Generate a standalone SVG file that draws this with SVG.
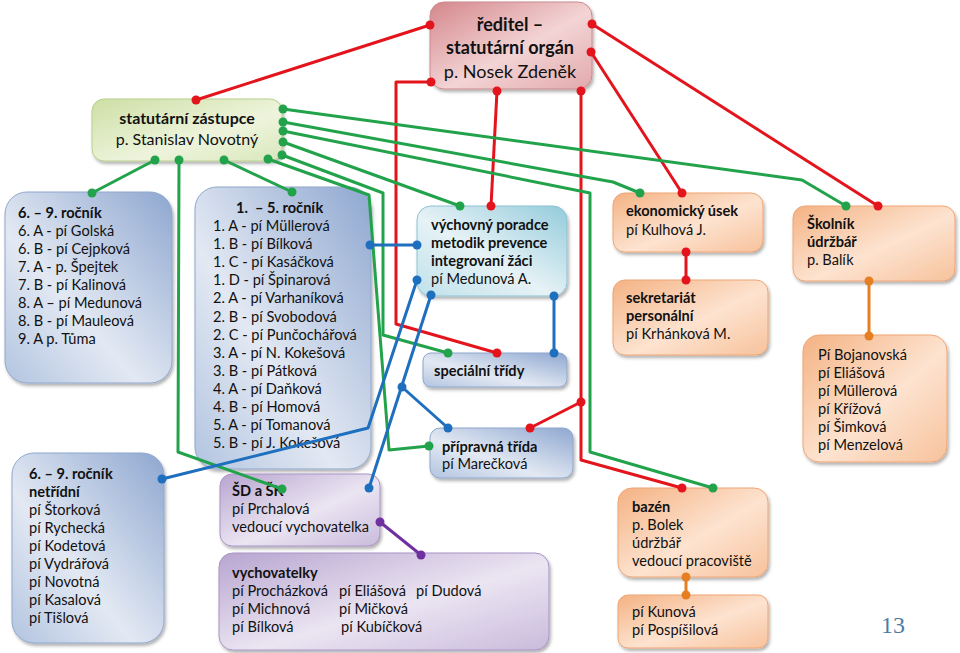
<svg xmlns="http://www.w3.org/2000/svg" width="960" height="653" viewBox="0 0 960 653">
<style>
text{font-family:Lato,"Noto Sans","Liberation Sans",sans-serif;font-size:14.6px;fill:#111}
.b{font-weight:bold}
.big{font-size:18px}
.mid{font-size:16px}
.ln{fill:none;stroke-width:3;stroke-linejoin:round}
.r{stroke:#e3141c}.g{stroke:#22a34b}.bl{stroke:#1f6fbf}.p{stroke:#7030a0}.o{stroke:#e67e22}
.dr{fill:#e3141c}.dg{fill:#22a34b}.db{fill:#1f6fbf}.dp{fill:#7030a0}.do{fill:#e67e22}
.box{filter:url(#sh)}
</style>
<defs>
<filter id="sh" x="-10%" y="-10%" width="125%" height="130%">
<feDropShadow dx="1.5" dy="2.5" stdDeviation="1.5" flood-color="#000" flood-opacity="0.3"/>
</filter>
<linearGradient id="gRed" x1="0" y1="0" x2="1" y2="1">
<stop offset="0" stop-color="#d4878c"/><stop offset="0.55" stop-color="#f3d4d5"/><stop offset="1" stop-color="#e2a9ac"/>
</linearGradient>
<linearGradient id="gGreen" x1="0" y1="0" x2="1" y2="1">
<stop offset="0" stop-color="#cddfa5"/><stop offset="0.6" stop-color="#eef4dc"/><stop offset="1" stop-color="#d9e7bc"/>
</linearGradient>
<linearGradient id="gBlue" x1="0" y1="1" x2="1" y2="0">
<stop offset="0" stop-color="#b2c4e0"/><stop offset="0.4" stop-color="#e3e9f3"/><stop offset="1" stop-color="#8ea7d0"/>
</linearGradient>
<linearGradient id="gTeal" x1="0" y1="1" x2="1" y2="0">
<stop offset="0" stop-color="#bfe1ea"/><stop offset="0.45" stop-color="#e6f2f6"/><stop offset="1" stop-color="#94cbdb"/>
</linearGradient>
<linearGradient id="gPurple" x1="0" y1="0" x2="1" y2="1">
<stop offset="0" stop-color="#b8a5d0"/><stop offset="0.55" stop-color="#ebe5f2"/><stop offset="1" stop-color="#c9bbdc"/>
</linearGradient>
<linearGradient id="gOrange" x1="0" y1="0" x2="1" y2="1">
<stop offset="0" stop-color="#f4b283"/><stop offset="0.55" stop-color="#fde3d0"/><stop offset="1" stop-color="#f7c29c"/>
</linearGradient>
</defs>
<rect width="960" height="653" fill="#fff"/>

<g id="reditel"><rect class="box" x="430" y="2" width="162" height="87" rx="14" fill="url(#gRed)" stroke="#c98a8e" stroke-width="1"/>
<text class="b big" x="510" y="31" text-anchor="middle">ředitel –</text>
<text class="b big" x="510" y="54" text-anchor="middle">statutární orgán</text>
<text class="big" x="510" y="78" text-anchor="middle">p. Nosek Zdeněk</text></g>

<g id="zastupce"><rect class="box" x="92" y="99" width="190" height="62" rx="12" fill="url(#gGreen)" stroke="#b9cf8e" stroke-width="1"/>
<text class="b mid" x="187" y="124" text-anchor="middle">statutární zástupce</text>
<text class="mid" x="187" y="145" text-anchor="middle">p. Stanislav Novotný</text></g>

<g id="r69"><rect class="box" x="5" y="192" width="167" height="191" rx="22" fill="url(#gBlue)" stroke="#8fa6cc" stroke-width="1"/>
<text x="18" y="218"><tspan class="b">6. – 9. ročník</tspan><tspan x="18" dy="18">6. A -  pí Golská</tspan><tspan x="18" dy="18">6. B -  pí Cejpková</tspan><tspan x="18" dy="18">7. A -  p. Špejtek</tspan><tspan x="18" dy="18">7. B -  pí Kalinová</tspan><tspan x="18" dy="18">8. A – pí Medunová</tspan><tspan x="18" dy="18">8. B - pí Mauleová</tspan><tspan x="18" dy="18">9. A p. Tůma</tspan></text></g>

<g id="r15"><rect class="box" x="195" y="187" width="176" height="282" rx="22" fill="url(#gBlue)" stroke="#8fa6cc" stroke-width="1"/>
<text class="b" y="213"><tspan x="236">1.</tspan><tspan x="255">– 5. ročník</tspan></text>
<text x="213" y="231"><tspan>1. A  - pí Müllerová</tspan><tspan x="213" dy="18.1">1. B  - pí Bílková</tspan><tspan x="213" dy="18.1">1. C - pí Kasáčková</tspan><tspan x="213" dy="18.1">1. D -  pí Špinarová</tspan><tspan x="213" dy="18.1">2. A - pí Varhaníková</tspan><tspan x="213" dy="18.1">2. B - pí Svobodová</tspan><tspan x="213" dy="18.1">2. C - pí Punčochářová</tspan><tspan x="213" dy="18.1">3. A - pí N. Kokešová</tspan><tspan x="213" dy="18.1">3. B - pí Pátková</tspan><tspan x="213" dy="18.1">4. A - pí Daňková</tspan><tspan x="213" dy="18.1">4. B - pí Homová</tspan><tspan x="213" dy="18.1">5. A - pí Tomanová</tspan><tspan x="213" dy="18.1">5. B - pí J. Kokešová</tspan></text></g>

<g id="netridni"><rect class="box" x="12" y="453" width="152" height="190" rx="22" fill="url(#gBlue)" stroke="#8fa6cc" stroke-width="1"/>
<text x="29" y="479"><tspan class="b">6. – 9. ročník</tspan><tspan class="b" x="29" dy="18">netřídní</tspan><tspan x="29" dy="18">pí Štorková</tspan><tspan x="29" dy="18">pí Rychecká</tspan><tspan x="29" dy="18">pí Kodetová</tspan><tspan x="29" dy="18">pí Vydrářová</tspan><tspan x="29" dy="18">pí Novotná</tspan><tspan x="29" dy="18">pí Kasalová</tspan><tspan x="29" dy="18">pí Tišlová</tspan></text></g>

<g id="vychovny"><rect class="box" x="417" y="206" width="150" height="90" rx="14" fill="url(#gTeal)" stroke="#8cc3d3" stroke-width="1"/>
<text x="431" y="230"><tspan class="b">výchovný poradce</tspan><tspan class="b" x="431" dy="18">metodik prevence</tspan><tspan class="b" x="431" dy="18">integrovaní žáci</tspan><tspan x="431" dy="18">pí Medunová A.</tspan></text></g>

<g id="specialni"><rect class="box" x="423" y="353" width="144" height="34" rx="8" fill="url(#gBlue)" stroke="#8fa6cc" stroke-width="1"/>
<text class="b" x="434" y="376">speciální třídy</text></g>

<g id="pripravna"><rect class="box" x="430" y="428" width="143" height="50" rx="10" fill="url(#gBlue)" stroke="#8fa6cc" stroke-width="1"/>
<text x="442" y="452"><tspan class="b">přípravná třída</tspan><tspan x="442" dy="17">pí Marečková</tspan></text></g>

<g id="sdsk"><rect class="box" x="220" y="474" width="160" height="72" rx="12" fill="url(#gPurple)" stroke="#a893c4" stroke-width="1"/>
<text x="232" y="496"><tspan class="b">ŠD a ŠK</tspan><tspan x="232" dy="18">pí Prchalová</tspan><tspan x="232" dy="18">vedoucí vychovatelka</tspan></text></g>

<g id="vychovatelky"><rect class="box" x="219" y="553" width="330" height="97" rx="14" fill="url(#gPurple)" stroke="#a893c4" stroke-width="1"/>
<text class="b" x="232" y="578">vychovatelky</text>
<text y="596"><tspan x="232">pí Procházková</tspan><tspan x="339">pí Eliášová</tspan><tspan x="416">pí Dudová</tspan></text>
<text y="614"><tspan x="232">pí Michnová</tspan><tspan x="339">pí Mičková</tspan></text>
<text y="632"><tspan x="232">pí Bílková</tspan><tspan x="341">pí Kubíčková</tspan></text></g>

<g id="ekonomicky"><rect class="box" x="613" y="193" width="150" height="59" rx="12" fill="url(#gOrange)" stroke="#eea574" stroke-width="1"/>
<text x="626" y="216"><tspan class="b">ekonomický úsek</tspan><tspan x="626" dy="19">pí Kulhová J.</tspan></text></g>

<g id="sekretariat"><rect class="box" x="613" y="280" width="155" height="75" rx="12" fill="url(#gOrange)" stroke="#eea574" stroke-width="1"/>
<text x="626" y="303"><tspan class="b">sekretariát</tspan><tspan class="b" x="626" dy="18">personální</tspan><tspan x="626" dy="18">pí Krhánková M.</tspan></text></g>

<g id="skolnik"><rect class="box" x="793" y="206" width="162" height="75" rx="12" fill="url(#gOrange)" stroke="#eea574" stroke-width="1"/>
<text x="807" y="229"><tspan class="b">Školník</tspan><tspan class="b" x="807" dy="18">údržbář</tspan><tspan x="807" dy="18">p. Balík</tspan></text></g>

<g id="uklid"><rect class="box" x="803" y="335" width="144" height="127" rx="16" fill="url(#gOrange)" stroke="#eea574" stroke-width="1"/>
<text x="818" y="360"><tspan>Pí Bojanovská</tspan><tspan x="818" dy="18">pí Eliášová</tspan><tspan x="818" dy="18">pí Müllerová</tspan><tspan x="818" dy="18">pí Křížová</tspan><tspan x="818" dy="18">pí Šimková</tspan><tspan x="818" dy="18">pí Menzelová</tspan></text></g>

<g id="bazen"><rect class="box" x="618" y="488" width="150" height="89" rx="14" fill="url(#gOrange)" stroke="#eea574" stroke-width="1"/>
<text x="632" y="512"><tspan class="b">bazén</tspan><tspan x="632" dy="18">p. Bolek</tspan><tspan x="632" dy="18">údržbář</tspan><tspan x="632" dy="18">vedoucí pracoviště</tspan></text></g>

<g id="kunova"><rect class="box" x="618" y="595" width="150" height="53" rx="10" fill="url(#gOrange)" stroke="#eea574" stroke-width="1"/>
<text x="632" y="617"><tspan>pí Kunová</tspan><tspan x="632" dy="18">pí Pospíšilová</tspan></text></g>

<g id="connectors">
<path class="ln r" d="M430,25 L196,100"/>
<path class="ln r" d="M431,82 L396,82 L396,324 L497,353"/>
<path class="ln r" d="M497,91 L491,206"/>
<path class="ln r" d="M581,91 L581,460 L682,488"/>
<path class="ln r" d="M581,402 L530,428"/>
<path class="ln r" d="M592,24 L878,206"/>
<path class="ln r" d="M591,52 L682,193"/>
<path class="ln r" d="M686,252 L686,280"/>
<path class="ln g" d="M283,109 L802,180 L846,206"/>
<path class="ln g" d="M283,122 L613,182 L640,193"/>
<path class="ln g" d="M283,131 L590,193 L590,452 L713,488"/>
<path class="ln g" d="M283,142 L460,206"/>
<path class="ln g" d="M282,155 L383,193 L383,335 L448,353"/>
<path class="ln g" d="M268,159 L369,195 L389,450 L429,446"/>
<path class="ln g" d="M224,160 L292,192"/>
<path class="ln g" d="M179,160 L178,452 L282,489"/>
<path class="ln g" d="M155,160 L92,193"/>
<path class="ln bl" d="M370,245 L417,245"/>
<path class="ln bl" d="M554,296 L554,353"/>
<path class="ln bl" d="M417,280 L368,428 L162,479"/>
<path class="ln bl" d="M431,295 L369,488"/>
<path class="ln bl" d="M402,387 L448,428"/>
<path class="ln p" d="M380,522 L421,555"/>
<path class="ln o" d="M869,281 L869,336"/>
<path class="ln o" d="M686,577 L686,595"/>
<g class="dr">
<circle cx="430" cy="25" r="4.5"/><circle cx="196" cy="100" r="4.5"/><circle cx="431" cy="82" r="4.5"/><circle cx="497" cy="353" r="4.5"/>
<circle cx="497" cy="91" r="4.5"/><circle cx="491" cy="206" r="4.5"/><circle cx="581" cy="91" r="4.5"/><circle cx="682" cy="488" r="4.5"/>
<circle cx="581" cy="402" r="4.5"/><circle cx="530" cy="428" r="4.5"/><circle cx="592" cy="24" r="4.5"/><circle cx="878" cy="206" r="4.5"/>
<circle cx="591" cy="52" r="4.5"/><circle cx="682" cy="193" r="4.5"/><circle cx="686" cy="252" r="4.5"/><circle cx="686" cy="280" r="4.5"/>
</g>
<g class="dg">
<circle cx="283" cy="109" r="4.5"/><circle cx="283" cy="122" r="4.5"/><circle cx="283" cy="131" r="4.5"/><circle cx="283" cy="142" r="4.5"/>
<circle cx="282" cy="155" r="4.5"/><circle cx="268" cy="159" r="4.5"/><circle cx="224" cy="160" r="4.5"/><circle cx="179" cy="160" r="4.5"/><circle cx="155" cy="160" r="4.5"/>
<circle cx="846" cy="206" r="4.5"/><circle cx="640" cy="193" r="4.5"/><circle cx="713" cy="488" r="4.5"/><circle cx="460" cy="206" r="4.5"/>
<circle cx="448" cy="353" r="4.5"/><circle cx="429" cy="446" r="4.5"/><circle cx="292" cy="192" r="4.5"/><circle cx="282" cy="489" r="4.5"/><circle cx="92" cy="193" r="4.5"/>
</g>
<g class="db">
<circle cx="370" cy="245" r="4.5"/><circle cx="417" cy="245" r="4.5"/><circle cx="554" cy="296" r="4.5"/><circle cx="554" cy="353" r="4.5"/>
<circle cx="417" cy="280" r="4.5"/><circle cx="162" cy="479" r="4.5"/><circle cx="431" cy="295" r="4.5"/><circle cx="369" cy="488" r="4.5"/>
<circle cx="402" cy="387" r="4.5"/><circle cx="448" cy="428" r="4.5"/>
</g>
<g class="dp"><circle cx="380" cy="522" r="4.5"/><circle cx="421" cy="555" r="4.5"/></g>
<g class="do"><circle cx="869" cy="281" r="4.5"/><circle cx="869" cy="336" r="4.5"/><circle cx="686" cy="577" r="4.5"/><circle cx="686" cy="595" r="4.5"/></g>
</g>

<text x="893" y="633" text-anchor="middle" style="font-family:'Liberation Serif','DejaVu Serif',serif;font-size:24px;fill:#4f7aa3">13</text>
</svg>
